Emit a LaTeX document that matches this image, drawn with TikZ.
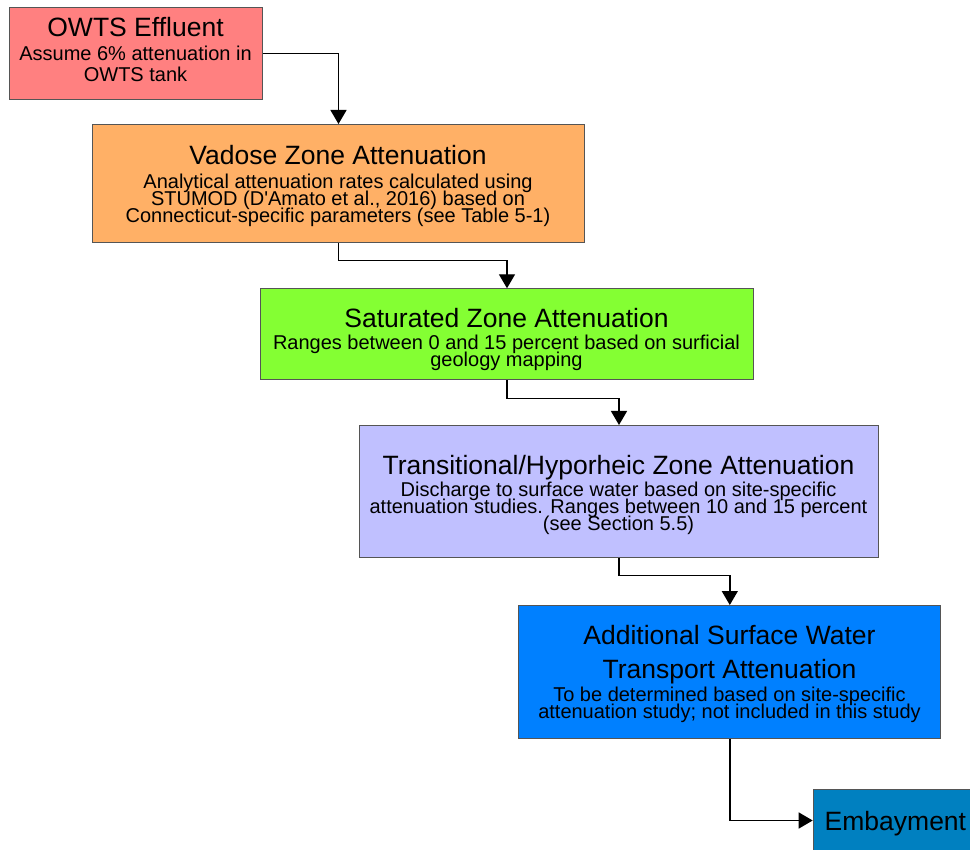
\documentclass[tikz,border=0pt]{standalone}
\usepackage{fontspec}
\setmainfont{Liberation Sans}
\usetikzlibrary{arrows.meta}
\definecolor{cOwts}{HTML}{FF8080}
\definecolor{cVad}{HTML}{FFB066}
\definecolor{cSat}{HTML}{84FF33}
\definecolor{cTra}{HTML}{C0C0FF}
\definecolor{cAdd}{HTML}{0080FF}
\definecolor{cEmb}{HTML}{0080C0}
\definecolor{cBord}{HTML}{555555}
\begin{document}
\begin{tikzpicture}[x=1pt,y=-1pt,
  box/.style={draw=cBord, line width=1pt, inner sep=0pt, anchor=north west},
  ttl/.style={font=\fontsize{26.5}{30}\selectfont, anchor=base, inner sep=0pt},
  sub/.style={font=\fontsize{20}{17}\selectfont, anchor=base, inner sep=0pt},
  arr/.style={line width=1.4pt, -{Triangle[width=16pt,length=14pt]}}]
\useasboundingbox (0,0) rectangle (970,850);

% boxes
\node[box, fill=cOwts, minimum width=253pt, minimum height=92pt] (owts) at (9,7) {};
\node[box, fill=cVad, minimum width=492pt, minimum height=118.5pt] (vad) at (92,124) {};
\node[box, fill=cSat, minimum width=493pt, minimum height=91pt] (sat) at (260,288.3) {};
\node[box, fill=cTra, minimum width=519pt, minimum height=131.7pt] (tra) at (359,425) {};
\node[box, fill=cAdd, minimum width=422pt, minimum height=132.7pt] (add) at (518.3,605) {};
\node[box, fill=cEmb, minimum width=165.5pt, minimum height=62pt] (emb) at (812.7,789) {};

% texts
\node[ttl] (owtsT) at (135.5,37) {OWTS Effluent};
\node[sub] (owtsS1) at (135.5,61) {Assume 6\% attenuation in};
\node[sub] (owtsS2) at (135.5,82) {OWTS tank};

\node[ttl] (vadT) at (338,165) {Vadose Zone Attenuation};
\node[sub] (vadS1) at (338,188.5) {Analytical attenuation rates calculated using};
\node[sub] (vadS2) at (338,205.5) {STUMOD (D\textquotesingle Amato et al., 2016) based on};
\node[sub] (vadS3) at (338,222.5) {Connecticut-specific parameters (see Table 5-1)};

\node[ttl] (satT) at (506.5,327.7) {Saturated Zone Attenuation};
\node[sub] (satS1) at (506.5,350) {Ranges between 0 and 15 percent based on surficial};
\node[sub] (satS2) at (506.5,366.5) {geology mapping};

\node[ttl] (traT) at (618.5,475) {Transitional/Hyporheic Zone Attenuation};
\node[sub] (traS1) at (618.5,496.5) {Discharge to surface water based on site-specific};
\node[sub] (traS2) at (618.5,513.5) {attenuation studies. Ranges between 10 and 15 percent};
\node[sub] (traS3) at (618.5,530.5) {(see Section 5.5)};

\node[ttl] (addT1) at (729.5,644.5) {Additional Surface Water};
\node[ttl] (addT2) at (729.5,678.5) {Transport Attenuation};
\node[sub] (addS1) at (729.5,701.5) {To be determined based on site-specific};
\node[sub] (addS2) at (729.5,718.5) {attenuation study; not included in this study};

\node[ttl] (embT) at (895.4,830) {Embayment};

% connectors
\draw[arr] (owts.east) -| (vad.north);
\draw[arr] (vad.south) -- ++(0,17) -| (sat.north);
\draw[arr] (sat.south) -- ++(0,18) -| (tra.north);
\draw[arr] (tra.south) -- ++(0,18) -| (add.north);
\draw[arr] (add.south) |- (emb.west);
\end{tikzpicture}
\end{document}
